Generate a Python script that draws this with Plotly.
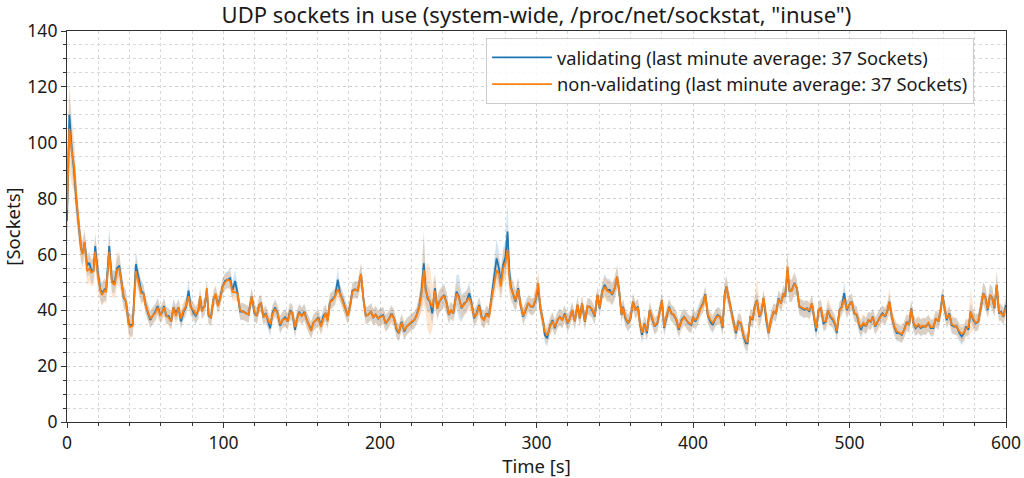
import plotly.graph_objects as go

# ---- sample times [s] ----
t_a = [0.0, 1.5, 3.0, 4.5, 6.0, 7.5, 9.0, 10.0, 11.3, 12.8,
       14.3, 15.5, 17.0, 18.0, 19.8, 21.3, 22.3, 24.0, 25.0, 27.0,
       28.7, 30.4, 32.0, 33.4, 34.7, 36.2, 37.7, 39.4, 40.4, 42.0,
       44.0, 45.7, 47.4, 49.0, 50.0, 51.7, 53.2, 54.7, 56.4, 57.9,
       59.6, 60.6, 62.0, 63.4, 64.9, 66.6, 68.0, 69.6, 71.3, 72.8,
       74.5, 76.0, 77.7, 79.0, 80.9, 82.3, 84.0, 85.0, 86.2, 88.0,
       89.4, 90.4, 92.0, 93.6, 95.0, 96.4, 97.9, 99.4, 101.0, 102.8,
       104.3, 105.7, 107.4, 109.0, 110.6, 112.8, 114.5, 116.0, 118.0, 119.8,
       121.3, 122.8, 124.0, 125.5, 127.0, 128.7, 129.8, 131.3, 133.0, 134.5,
       136.2, 137.7, 139.4, 141.0, 142.6, 144.0, 145.7, 146.8, 148.3, 150.0,
       151.7, 153.2, 154.7, 156.0, 157.4, 159.0, 160.6, 162.3, 163.8, 165.3,
       166.6, 168.0, 169.6, 171.3, 173.0, 174.5, 176.0, 177.7, 179.4, 180.9,
       182.3, 184.0, 185.7, 187.9, 189.4, 190.9, 192.6, 194.3, 195.7, 197.2,
       198.9]
t_b = [200.0, 202.0, 203.6, 205.3, 207.4, 209.0, 210.6, 212.0, 213.8, 215.5,
       217.0, 218.7, 220.2, 222.0, 223.4, 225.0, 226.6, 228.0, 229.1, 230.4,
       231.9, 233.4, 235.1, 236.6, 237.9, 239.4, 241.0, 242.6, 244.0, 245.3,
       246.8, 248.9, 250.4, 252.1, 253.8, 255.3, 257.0, 258.5, 260.2, 261.7,
       263.4, 264.9, 266.4, 268.1, 269.6, 271.3, 273.0, 274.5, 276.0, 277.2,
       278.7, 280.2, 281.5, 282.6, 283.6, 285.1, 286.6, 288.3, 289.8, 291.5,
       293.0, 294.7, 296.4, 297.9, 299.4, 301.1, 302.6, 304.3, 305.3, 306.8,
       308.5, 310.2, 311.7, 313.4, 314.9, 316.4, 318.1, 319.8, 321.3, 322.8,
       324.5, 326.2, 327.7, 329.1, 330.9, 332.6, 334.0, 335.5, 337.2, 338.9,
       340.4, 341.9, 343.6, 345.1, 346.8, 348.3, 350.0, 351.5, 352.8, 354.3,
       355.3, 356.8, 358.5, 360.0, 361.7, 363.2, 364.9, 366.0, 367.4, 369.1,
       370.6, 372.3, 373.8, 375.5, 377.2, 378.7, 380.2, 381.5, 383.0, 384.7,
       386.2, 387.7, 389.4, 390.9, 392.6, 394.3, 395.7, 397.2, 398.9]
t_c = [400.0, 401.5, 403.0, 404.7, 406.4, 407.9, 409.4, 411.1, 412.6, 414.3,
       415.7, 417.4, 418.9, 420.2, 421.3, 422.8, 424.3, 426.0, 427.4, 429.1,
       430.6, 432.3, 433.8, 434.9, 436.6, 438.1, 439.4, 440.9, 442.3, 443.6,
       445.1, 446.8, 448.3, 449.8, 451.5, 453.0, 454.7, 456.2, 457.9, 458.9,
       460.4, 461.7, 463.2, 464.7, 466.4, 467.9, 469.6, 471.1, 472.8, 474.3,
       476.0, 477.4, 478.7, 480.2, 481.7, 483.4, 484.9, 486.2, 487.7, 489.4,
       490.9, 491.9, 493.6, 495.1, 496.6, 498.3, 499.8, 501.5, 503.0, 504.7,
       506.2, 507.4, 508.9, 510.4, 512.1, 513.6, 514.9, 516.4, 517.9, 519.6,
       521.1, 522.8, 524.3, 525.5, 527.0, 528.5, 530.2, 531.9, 533.4, 534.9,
       536.6, 538.1, 539.4, 540.9, 542.3, 544.0, 545.5, 547.2, 548.7, 550.4,
       551.9, 553.6, 555.1, 556.8, 558.3, 559.4, 560.6, 562.1, 563.8, 565.3,
       566.8, 568.5, 570.2, 571.7, 573.2, 574.5, 576.0, 577.4, 579.1, 580.6,
       582.3, 583.8, 585.5, 587.0, 588.3, 589.8, 591.3, 592.6, 594.1, 595.5,
       596.8, 598.3, 600.0]

# ---- validating (blue) ----
val_a = [72, 110, 98, 90, 79, 69, 62, 60.5, 64.3, 56,
         57, 54, 54.5, 63, 53, 47.5, 46, 47.5, 47, 63,
         50.5, 50, 55, 56, 50.5, 44.5, 43, 35.5, 34.5, 35,
         56.5, 51, 47, 46, 42.5, 39, 36.5, 38, 39.5, 41.5,
         38.5, 39, 41.5, 38, 38, 36, 41, 39, 41, 36,
         39.5, 41, 47, 41.5, 39, 38, 40, 45, 40, 41.5,
         47.5, 38, 37.5, 44, 45.5, 42, 44.5, 48.5, 50.5, 51,
         51.5, 47, 50.5, 46, 39.5, 39.5, 39, 38.5, 45, 39,
         38, 42, 42.5, 37.5, 39, 36, 33.5, 39, 41, 39,
         34.5, 36.5, 37.5, 36, 40, 39, 33, 36.5, 39.5, 38,
         39.5, 36.5, 34.5, 33, 35.5, 36.5, 37.5, 34.5, 38, 39,
         36.5, 43, 44, 45, 51, 46, 44, 41, 38, 41.5,
         47, 47.5, 47, 53, 44, 38, 38.5, 39.5, 37.5, 38.5,
         37]
val_b = [37.7, 38.3, 35.3, 36.5, 38.9, 37.1, 33, 31.8, 35.9, 32.4,
         34.2, 35.1, 35.9, 36.5, 38.3, 41.3, 47.3, 56.8, 47.9, 44.3,
         43.1, 38.9, 47.9, 40.7, 43.1, 44.3, 45.5, 42.5, 38.3, 40.1,
         38.9, 46.7, 44.9, 40.7, 42.5, 43.1, 46.1, 42.5, 37.1, 38.9,
         41.9, 37.7, 36.5, 38.9, 37.7, 44.9, 52, 58.6, 55, 49.7,
         56.2, 59.2, 68.2, 54.4, 48.5, 46.1, 43.1, 47.9, 41.9, 37.7,
         40.1, 42.5, 41.3, 41.3, 43.7, 48, 40.1, 35.9, 31.2, 30,
         34.2, 36.5, 33.6, 36.5, 37.7, 36.5, 38.9, 35.3, 37.1, 40.1,
         36.1, 41.9, 37.1, 42.5, 35.9, 41.3, 41.3, 40.1, 37.7, 45.5,
         40.7, 46.7, 49.1, 47.3, 47.3, 45.5, 47.9, 52, 47.3, 38.3,
         41.3, 37.1, 35.3, 37.1, 43.1, 40.1, 41.3, 35.3, 31.2, 35.3,
         31.8, 40.1, 37.1, 34.2, 35.3, 40.1, 43.7, 33.6, 37.7, 41.3,
         38.9, 38.3, 36.5, 33, 36.5, 37.7, 36.5, 35.3, 34.7]
val_c = [37.7, 35.9, 37.7, 40.7, 42.5, 45.8, 38.3, 35.9, 34.7, 37.1,
         38.3, 37.7, 33.6, 45.5, 48.5, 44.3, 40.1, 34.7, 31.8, 35.9,
         35.3, 30.6, 28.2, 28.2, 37.7, 36.5, 41.3, 43.7, 37.7, 38.9,
         44.3, 36.5, 31.8, 36.5, 39.5, 38.9, 44.3, 42.5, 46.1, 44.9,
         54.5, 46.7, 47.3, 49.7, 47.9, 41.3, 40.7, 40.1, 40.7, 39.5,
         42.5, 37.7, 32.4, 40.1, 40.7, 35.3, 35.9, 40.1, 37.7, 36.5,
         34.7, 31.8, 40.1, 41.3, 46.1, 40.1, 41.9, 43.1, 38.9, 38.3,
         34.7, 33, 35.3, 34.2, 36.5, 35.9, 37.7, 34.2, 35.9, 37.7,
         38.9, 37.7, 40.1, 43.1, 37.7, 34.2, 31.8, 31.8, 31.2, 33,
         35.9, 34.7, 40.7, 35.3, 33.6, 34.7, 33.6, 34.2, 34.2, 35.3,
         33.6, 33.6, 37.1, 35.9, 40.1, 45.5, 41.3, 36.5, 38.9, 34.7,
         34.2, 34.2, 31.8, 30.6, 31.8, 34.2, 33, 39.5, 36.5, 35.3,
         35.9, 40.7, 46.1, 44.3, 40.1, 45.5, 44.3, 40.7, 49.1, 38.9,
         39.5, 37.7, 41.9]

# ---- non-validating (orange) ----
non_a = [76, 105, 97, 92, 80, 70, 62, 60, 64.5, 54,
         55, 53.5, 54, 61, 52, 47, 45.5, 47, 46.5, 61,
         50, 49, 54.5, 55, 50, 45, 43, 35, 34, 34.5,
         54, 50.5, 46, 46, 42, 39.5, 37, 38, 39, 41,
         38, 39.5, 41, 38.5, 37.5, 36, 41, 38, 41, 37,
         40, 41.5, 45, 41, 40, 38.5, 40, 45, 39.5, 41.5,
         48, 38.5, 37, 44, 46, 41.5, 44, 48.5, 50, 51,
         50.5, 46.5, 46.5, 46, 40, 39.5, 39, 38.5, 45, 39.5,
         38, 42, 42.5, 37.5, 38.5, 36.5, 35, 38.5, 40.5, 39,
         35, 36.5, 37, 36, 39.5, 39, 34, 36.5, 39, 38,
         39, 36.5, 34, 32.5, 35.5, 36.5, 37, 34, 37, 39,
         36, 43, 43.5, 45, 47.5, 46, 43.5, 40.5, 38, 41.5,
         46.5, 47.5, 47, 53, 44, 38, 38.5, 39.5, 37.5, 38.5,
         37]
non_b = [37.5, 38, 35.5, 36.5, 38.5, 37, 33.5, 32, 35.5, 33,
         34, 35, 36, 36.5, 38, 41, 46, 54.4, 47, 45,
         43, 41, 47, 40.5, 43, 44.5, 45, 42.5, 38.5, 40,
         39, 46, 44.5, 41, 42, 43, 44.5, 42, 37.5, 38.5,
         41.5, 37.5, 36.5, 38.5, 37.5, 44, 50, 54.4, 53, 48.5,
         55, 57, 61.6, 52, 48, 46, 43.5, 47.5, 42, 38,
         40, 42.5, 41.3, 41.5, 44, 49.7, 40.5, 36, 32.5, 31,
         34, 36, 34, 36.5, 37.5, 36.5, 38.5, 35.5, 37, 40,
         36, 42, 37, 42.5, 36, 41.5, 41, 40.5, 38, 45.5,
         41, 46.5, 48.5, 47, 46.5, 46, 48, 52, 47, 38.5,
         41, 37.5, 35.5, 37, 43, 40, 41, 35.5, 32, 35,
         32.5, 40, 37.5, 34.5, 35.5, 40, 43.5, 34, 38, 41,
         39, 38.5, 36.5, 33.5, 36, 37.5, 36.5, 35.5, 35]
non_c = [37.5, 36.5, 37.5, 40.5, 42, 45.5, 38.5, 36.5, 35.5, 37,
         38, 37.5, 34, 45, 48.5, 44.5, 40, 35, 32.5, 36,
         35.5, 31, 29, 28.5, 37.5, 37, 41, 43.5, 38, 39,
         44.5, 37, 32, 36.5, 39.5, 39, 44, 42.5, 46, 45,
         55.6, 47, 47, 49.5, 48, 41.5, 41, 40.5, 40.5, 40,
         42.5, 38, 33.5, 40, 41, 36, 36, 40, 38, 37,
         35, 32.5, 40, 41, 44, 40.5, 42, 43, 39, 38.5,
         35, 34, 35.5, 34.5, 36.5, 36, 37.5, 34.5, 36, 37.5,
         38.5, 38, 40, 43, 38, 34.5, 32.5, 32, 31.5, 33,
         35.5, 35, 40.5, 35.5, 34, 35, 34, 34.5, 34, 35.5,
         34, 34, 37, 36, 40, 45, 41.5, 37, 38.5, 35,
         34.5, 34, 32.5, 31.5, 32, 33.5, 34, 39.5, 37, 35.5,
         36, 40.5, 46, 44, 40.5, 45.5, 44, 41, 49, 39.5,
         39, 38, 41]

# ---- band half-widths ----
val_err_a = [12, 9, 8, 7, 6, 5, 5, 4, 4, 4,
             4, 4, 4, 5, 4, 4, 4, 4, 4, 7,
             4, 4, 4, 4, 4, 4, 4, 4, 4, 4,
             5, 4, 4, 3, 3, 3, 3, 3, 3, 3,
             3, 3, 3, 3, 3, 3, 3, 3, 3, 3,
             3, 3, 4, 3, 3, 3, 3, 3, 3, 3,
             3, 3, 3, 3, 3, 3, 3, 3, 3, 3,
             4, 3, 4, 3, 3, 3, 3, 3, 3, 3,
             3, 3, 3, 3, 3, 3, 3, 3, 3, 3,
             3, 3, 3, 3, 3, 3, 3, 3, 3, 3,
             3, 3, 3, 3, 3, 3, 3, 3, 3, 3,
             3, 3, 3, 3, 4, 3, 3, 3, 3, 3,
             3, 3, 3, 4, 3, 3, 3, 3, 3, 3,
             3]
val_err_b = [3, 3, 3, 3, 3, 3, 3, 3, 3, 3,
             3, 3, 3, 3, 3, 4, 6, 12, 6, 5,
             4, 4, 5, 4, 4, 4, 4, 4, 3, 3,
             3, 6, 8, 5, 4, 4, 4, 3, 3, 3,
             3, 3, 3, 3, 3, 4, 6, 7, 6, 5,
             6, 6, 10, 6, 4, 4, 4, 4, 3, 3,
             3, 3, 3, 3, 4, 4, 3, 3, 3, 3,
             3, 3, 3, 3, 3, 3, 3, 3, 3, 3,
             3, 3, 3, 3, 3, 3, 3, 3, 3, 3,
             3, 3, 4, 4, 4, 4, 4, 4, 3, 3,
             3, 3, 3, 3, 3, 3, 3, 3, 3, 3,
             3, 3, 3, 3, 3, 3, 3, 3, 3, 3,
             3, 3, 3, 3, 3, 3, 3, 3, 3]
val_err_c = [3, 3, 3, 3, 3, 3, 3, 3, 3, 3,
             3, 3, 3, 4, 4, 3, 3, 3, 3, 3,
             3, 3, 3, 3, 3, 3, 3, 3, 3, 3,
             3, 3, 3, 3, 3, 3, 3, 3, 3, 3,
             6, 4, 4, 4, 3, 3, 3, 3, 3, 3,
             3, 3, 3, 3, 3, 3, 3, 3, 3, 3,
             3, 3, 3, 3, 4, 3, 3, 3, 3, 3,
             3, 3, 3, 3, 3, 3, 3, 3, 3, 3,
             3, 3, 3, 3, 3, 3, 3, 3, 3, 3,
             3, 3, 3, 3, 3, 3, 3, 3, 3, 3,
             3, 3, 3, 3, 3, 3, 3, 3, 3, 3,
             3, 3, 3, 3, 3, 3, 3, 3, 3, 3,
             3, 3, 4, 4, 3, 4, 4, 3, 5, 3,
             3, 3, 3]
non_err_a = [16, 16, 12, 10, 8, 6, 5, 5, 5, 5,
             5, 5, 5, 6, 5, 4, 4, 4, 4, 6,
             5, 5, 6, 6, 4, 4, 4, 4, 4, 4,
             5, 4, 4, 3, 3, 3, 3, 3, 3, 3,
             3, 3, 3, 3, 3, 3, 3, 3, 3, 3,
             3, 3, 3, 3, 3, 3, 3, 3, 3, 3,
             3, 3, 3, 3, 3, 3, 3, 3, 3, 3,
             3, 3, 3, 3, 3, 3, 3, 3, 3, 3,
             3, 3, 3, 3, 3, 3, 3, 3, 3, 3,
             3, 3, 3, 3, 3, 3, 3, 3, 3, 3,
             3, 3, 3, 3, 3, 3, 3, 3, 3, 3,
             3, 3, 3, 3, 3, 3, 3, 3, 3, 3,
             3, 3, 3, 4, 3, 3, 3, 3, 3, 3,
             3]
non_err_b = [3, 3, 3, 3, 3, 3, 3, 3, 3, 3,
             3, 3, 3, 3, 3, 4, 6, 12, 8, 12,
             12, 8, 6, 4, 4, 4, 4, 4, 3, 3,
             3, 4, 4, 4, 4, 4, 4, 3, 3, 3,
             3, 3, 3, 3, 3, 4, 5, 6, 6, 5,
             6, 6, 8, 6, 5, 4, 4, 4, 3, 3,
             3, 3, 3, 3, 4, 5, 3, 3, 3, 3,
             3, 3, 3, 3, 3, 3, 3, 3, 3, 3,
             3, 3, 3, 3, 3, 3, 3, 3, 3, 3,
             3, 3, 4, 4, 4, 4, 4, 4, 3, 3,
             3, 3, 3, 3, 3, 3, 3, 3, 3, 3,
             3, 3, 3, 3, 3, 3, 3, 3, 3, 3,
             3, 3, 3, 3, 3, 3, 3, 3, 3]
non_err_c = [3, 3, 3, 3, 3, 3, 3, 3, 3, 3,
             3, 3, 3, 4, 4, 3, 3, 3, 3, 3,
             3, 3, 3, 3, 3, 3, 4, 8, 6, 3,
             3, 3, 3, 3, 3, 3, 3, 3, 3, 3,
             5, 4, 4, 4, 3, 3, 3, 3, 3, 3,
             3, 3, 3, 3, 3, 3, 3, 5, 4, 3,
             3, 3, 3, 3, 4, 3, 3, 3, 3, 3,
             3, 3, 3, 3, 3, 3, 3, 3, 3, 3,
             3, 3, 3, 5, 3, 3, 3, 3, 3, 3,
             3, 3, 3, 3, 3, 3, 3, 3, 3, 3,
             3, 3, 3, 3, 3, 3, 3, 3, 3, 3,
             3, 3, 3, 3, 3, 3, 3, 8, 4, 3,
             3, 3, 4, 4, 3, 4, 4, 3, 5, 3,
             3, 3, 3]

t = t_a + t_b + t_c
val = val_a + val_b + val_c
non = non_a + non_b + non_c
val_err = val_err_a + val_err_b + val_err_c
non_err = non_err_a + non_err_b + non_err_c
n = min(len(t), len(val), len(non), len(val_err), len(non_err))
t, val, non, val_err, non_err = t[:n], val[:n], non[:n], val_err[:n], non_err[:n]

BLUE = "#1f77b4"
ORANGE = "#ff7f0e"
FONT = "Noto Sans"
TXT = "#1a1a1a"

fig = go.Figure()


def add_band(y, err, fill):
    hi = [a + e for a, e in zip(y, err)]
    lo = [a - e for a, e in zip(y, err)]
    fig.add_trace(go.Scatter(x=t, y=hi, mode="lines", line=dict(width=0),
                             showlegend=False, hoverinfo="skip"))
    fig.add_trace(go.Scatter(x=t, y=lo, mode="lines", line=dict(width=0),
                             fill="tonexty", fillcolor=fill,
                             showlegend=False, hoverinfo="skip"))


add_band(val, val_err, "rgba(31,119,180,0.2)")
add_band(non, non_err, "rgba(255,127,14,0.2)")

fig.add_trace(go.Scatter(x=t, y=val, mode="lines", legendgroup="g1",
                         line=dict(color=BLUE, width=1.8),
                         name="validating (last minute average: 37 Sockets)"))
fig.add_trace(go.Scatter(x=t, y=non, mode="lines", legendgroup="g2",
                         line=dict(color=ORANGE, width=1.8),
                         name="non-validating (last minute average: 37 Sockets)"))

axis_common = dict(
    showline=True, linecolor="#333333", linewidth=1.2, mirror=True,
    showgrid=True, gridcolor="#d0d0d0", griddash="dot", gridwidth=1,
    ticks="outside", ticklen=5, tickcolor="#333333",
    tickfont=dict(family=FONT, size=17.5, color=TXT),
    zeroline=False, automargin=False,
)

fig.update_layout(
    width=1024, height=478,
    margin=dict(l=67, r=18, t=31, b=56),
    paper_bgcolor="white", plot_bgcolor="white",
    font=dict(family=FONT, color=TXT),
    title=dict(text='UDP sockets in use (system-wide, /proc/net/sockstat, "inuse")',
               x=0.5, xanchor="center", xref="paper",
               y=1 - 15 / 478, yanchor="middle", yref="container",
               font=dict(family=FONT, size=22, color=TXT)),
    xaxis=dict(range=[0, 600], dtick=100, tick0=0,
               title=dict(text="Time [s]", font=dict(family=FONT, size=18.5), standoff=4),
               minor=dict(dtick=20, ticks="outside", ticklen=3, tickcolor="#333333",
                          showgrid=True, gridcolor="#d8d8d8", griddash="dot"),
               **axis_common),
    yaxis=dict(range=[0, 140], dtick=20, tick0=0,
               title=dict(text="[Sockets]", font=dict(family=FONT, size=18.5), standoff=2),
               minor=dict(dtick=5, ticks="outside", ticklen=3, tickcolor="#333333",
                          showgrid=True, gridcolor="#d8d8d8", griddash="dot"),
               **axis_common),
    legend=dict(x=0.966, y=0.982, xanchor="right", yanchor="top",
                traceorder="normal",
                bgcolor="rgba(255,255,255,0.85)", bordercolor="#cccccc", borderwidth=1,
                font=dict(family=FONT, size=18.3, color=TXT),
                itemwidth=60, tracegroupgap=30),
    showlegend=True,
)

fig.write_html("out.html",
               config={"displayModeBar": False},
               post_script="document.body.style.margin='0';document.body.style.padding='0';")
